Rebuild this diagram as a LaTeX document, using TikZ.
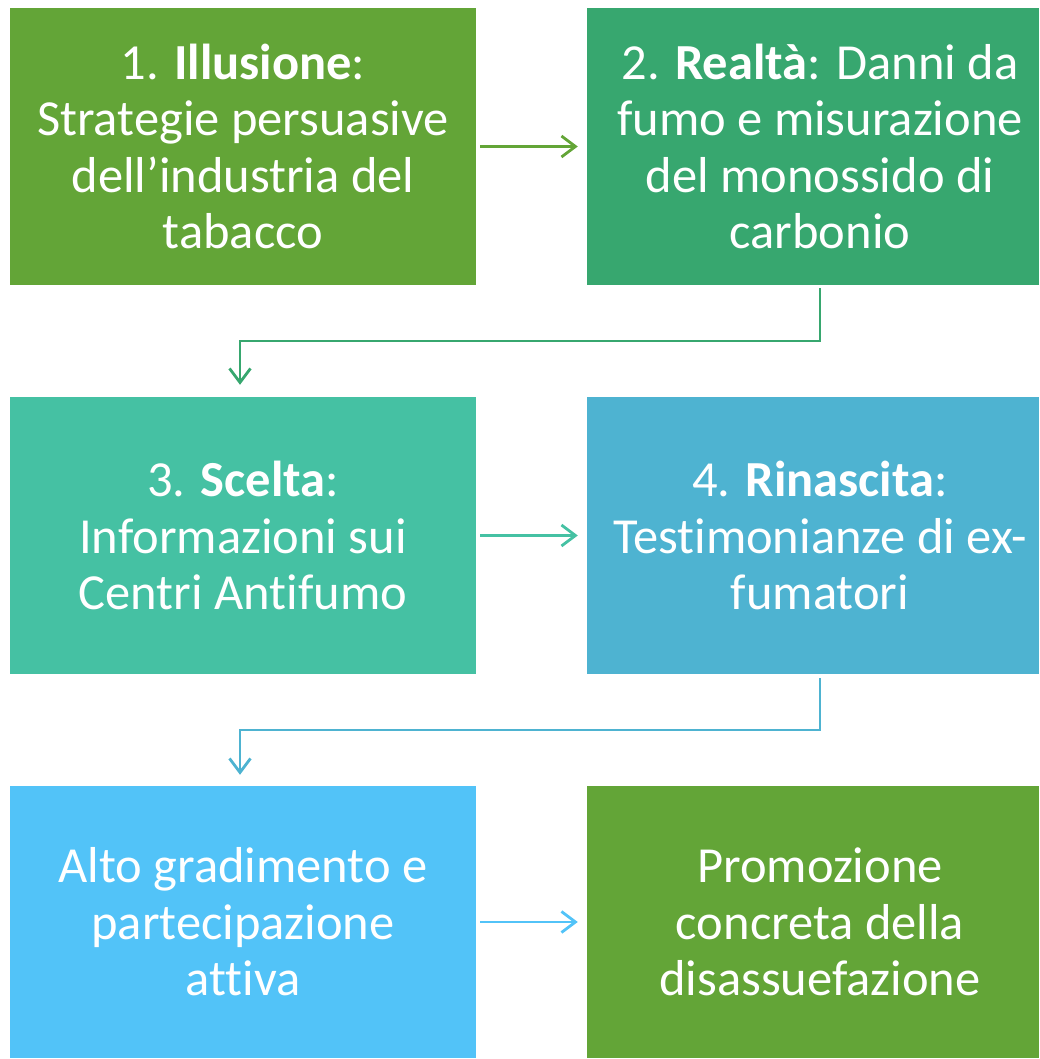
\documentclass[tikz,border=0pt]{standalone}
\usepackage{fontspec}
\setmainfont[RawFeature={-liga,-dlig}]{Carlito}
\usetikzlibrary{arrows.meta}
\definecolor{cA}{HTML}{63A537}
\definecolor{cB}{HTML}{37A76F}
\definecolor{cC}{HTML}{45C1A3}
\definecolor{cD}{HTML}{4EB3D1}
\definecolor{cE}{HTML}{52C3F8}
\begin{document}
\begin{tikzpicture}[x=1pt,y=-1pt,
  box/.style={fill=#1, draw=none, minimum width=466pt, minimum height=277pt, inner sep=0pt,
    text=white, align=center, font=\fontsize{50.5}{56.5}\selectfont},
  lbl/.style={text=white, align=center, inner sep=0pt, font=\fontsize{50.5}{56.5}\selectfont},
  conn/.style={draw=#1, line width=2.8pt, -{Straight Barb[length=14pt,width=21pt,line width=2.8pt]}}]
\useasboundingbox (0,0) rectangle (1040,1059);
\node[box=cA] (b1) at (243,146.5) {1. \textbf{Illusione}:\\Strategie persuasive\\dell’industria del\\tabacco};
\node[box=cB, minimum width=452pt] (b2) at (813,146.5) {};
\node[lbl] (t2) at ([xshift=7pt]b2.center) {2. \textbf{Realtà}: Danni da\\fumo e misurazione\\del monossido di\\carbonio};
\node[box=cC] (b3) at (243,535.5) {3. \textbf{Scelta}:\\Informazioni sui\\Centri Antifumo};
\node[box=cD, minimum width=452pt] (b4) at (813,535.5) {};
\node[lbl] (t4) at ([xshift=7pt]b4.center) {4. \textbf{Rinascita}:\\Testimonianze di ex-\\fumatori};
\node[box=cE, minimum height=272pt] (b5) at (243,922) {Alto gradimento e\\partecipazione\\attiva};
\node[box=cA, minimum width=452pt, minimum height=272pt] (b6) at (813,922) {};
\node[lbl] (t6) at ([xshift=7pt]b6.center) {Promozione\\concreta della\\disassuefazione};
\coordinate (e1) at (240,341);
\coordinate (e2) at (240,730);
\draw[conn=cA] ([xshift=4pt]b1.east) -- ([xshift=-9pt]b2.west);
\draw[conn=cB] ([xshift=7pt,yshift=-3pt]b2.south) |- (e1) -- ([yshift=12pt]b3.north -| e1);
\draw[conn=cC] ([xshift=4pt]b3.east) -- ([xshift=-9pt]b4.west);
\draw[conn=cD] ([xshift=7pt,yshift=-4pt]b4.south) |- (e2) -- ([yshift=11pt]b5.north -| e2);
\draw[conn=cE] ([xshift=4pt]b5.east) -- ([xshift=-9pt]b6.west);
\end{tikzpicture}
\end{document}
